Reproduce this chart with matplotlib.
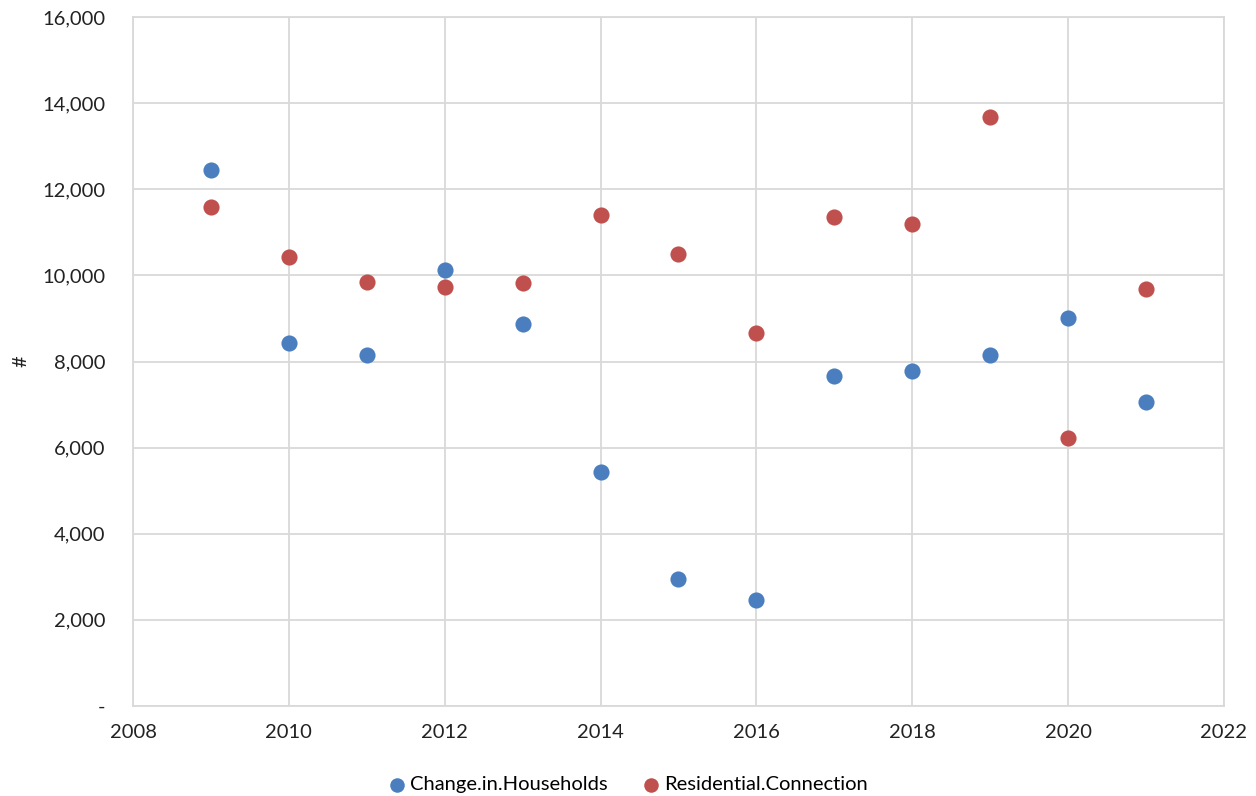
import matplotlib.pyplot as plt
from matplotlib.ticker import FuncFormatter

plt.rcParams['font.family'] = ['Lato', 'DejaVu Sans']

years = [2009, 2010, 2011, 2012, 2013, 2014, 2015, 2016, 2017, 2018, 2019, 2020, 2021]
households = [12450, 8430, 8150, 10125, 8870, 5435, 2950, 2460, 7665, 7780, 8150, 9010, 7060]
connections = [11590, 10430, 9850, 9730, 9820, 11400, 10500, 8660, 11360, 11190, 13680, 6220, 9680]

fig = plt.figure(figsize=(12.56, 7.96), dpi=100)
ax = fig.add_axes([0.1059, 0.1131, 0.8686, 0.8655])

ax.scatter(years, households, s=135, color='#4a7ebf', label='Change.in.Households', zorder=3, linewidths=0)
ax.scatter(years, connections, s=135, color='#c0504d', label='Residential.Connection', zorder=3, linewidths=0)

ax.set_xlim(2008, 2022)
ax.set_ylim(0, 16000)
ax.set_xticks(range(2008, 2023, 2))
ax.set_yticks(range(0, 16001, 2000))
ax.yaxis.set_major_formatter(FuncFormatter(lambda v, p: '-' if v == 0 else f'{int(v):,}'))

ax.grid(True, color='#d9d9d9', linewidth=1.3)
ax.set_axisbelow(True)
for side in ['top', 'right', 'left', 'bottom']:
    ax.spines[side].set_color('#d9d9d9')
    ax.spines[side].set_linewidth(1.3)
ax.tick_params(length=0, labelsize=14.5, colors='#222222', pad=13)
ax.tick_params(axis='y', pad=20)

ax.set_ylabel('#', fontsize=14.5, color='#222222', labelpad=9)

# legend centred on the whole figure, below the x tick labels
fig.legend(*ax.get_legend_handles_labels(), loc='upper center', bbox_to_anchor=(0.5, 0.048),
           ncol=2, frameon=False, fontsize=14.5, handlelength=0.8, handletextpad=0.25,
           columnspacing=1.75, markerscale=0.9)

fig.savefig('out.png')
